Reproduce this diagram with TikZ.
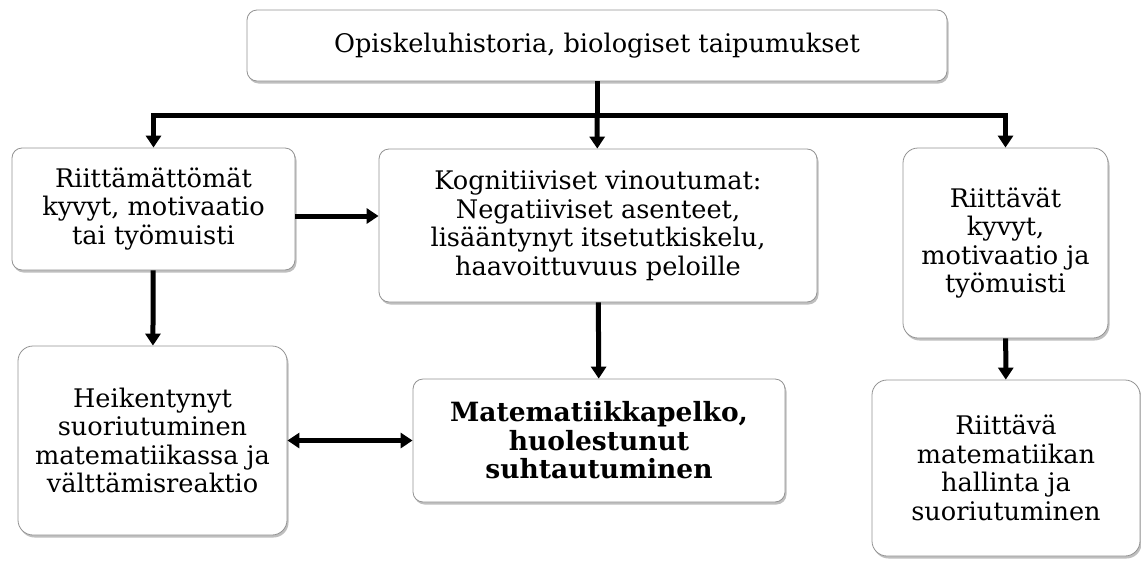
\documentclass[tikz,border=0pt]{standalone}
\usepackage{fontspec}
\setmainfont{DejaVu Serif}
\usetikzlibrary{arrows.meta, shadows}

\begin{document}
\begin{tikzpicture}[
      x=1pt, y=-1pt,
      box/.style={rectangle, draw=gray!85, line width=0.8pt, fill=white,
                  rounded corners=10pt, align=center, inner sep=0pt,
                  font=\fontsize{25.6}{28.5}\selectfont,
                  drop shadow={shadow xshift=1.5pt, shadow yshift=-2.5pt,
                               fill=black, opacity=0.25}},
      arr/.style={-{Triangle[width=15pt, length=12pt]}, line width=5pt},
      both/.style={{Triangle[width=15pt, length=12pt]}-{Triangle[width=15pt, length=12pt]},
                   line width=5pt},
    ]
    \useasboundingbox (0,0) rectangle (1141,560);

    \node[box, minimum width=700pt, minimum height=71pt]  (hist) at (597,45.5)
      {Opiskeluhistoria, biologiset taipumukset};
    \node[box, minimum width=283pt, minimum height=122pt] (heikot) at (153.5,209)
      {Riittämättömät\\kyvyt, motivaatio\\tai työmuisti};
    \node[box, minimum width=438pt, minimum height=153pt] (vino) at (598,225.5)
      {Kognitiiviset vinoutumat:\\Negatiiviset asenteet,\\lisääntynyt itsetutkiskelu,\\haavoittuvuus peloille};
    \node[box, minimum width=205pt, minimum height=190pt, rounded corners=15pt] (hyvat) at (1005.5,243)
      {Riittävät\\kyvyt,\\motivaatio ja\\työmuisti};
    \node[box, minimum width=269pt, minimum height=189pt, rounded corners=15pt] (suoritus) at (152.5,440.5)
      {Heikentynyt\\suoriutuminen\\matematiikassa ja\\välttämisreaktio};
    \node[box, minimum width=372pt, minimum height=123pt,
          font=\fontsize{26.5}{28.5}\selectfont\bfseries] (pelko) at (599,440.5)
      {Matematiikkapelko,\\huolestunut\\suhtautuminen};
    \node[box, minimum width=268pt, minimum height=176pt, rounded corners=15pt] (hallinta) at (1006,468)
      {Riittävä\\matematiikan\\hallinta ja\\suoriutuminen};

    \coordinate (jako) at (597,115);

    \draw[line width=5pt] (hist) -- (jako);
    \draw[arr] (jako) -| (heikot);
    \draw[arr] (jako) -- (vino);
    \draw[arr] (jako) -| (hyvat);
    \draw[arr] ([yshift=-7pt]heikot.east) -- ([yshift=-7pt]heikot.east -| vino.west);
    \draw[arr] (heikot) -- (suoritus);
    \draw[arr] (vino) -- (pelko);
    \draw[both] (suoritus) -- (pelko);
    \draw[arr] (hyvat) -- (hallinta);
  \end{tikzpicture}
\end{document}
